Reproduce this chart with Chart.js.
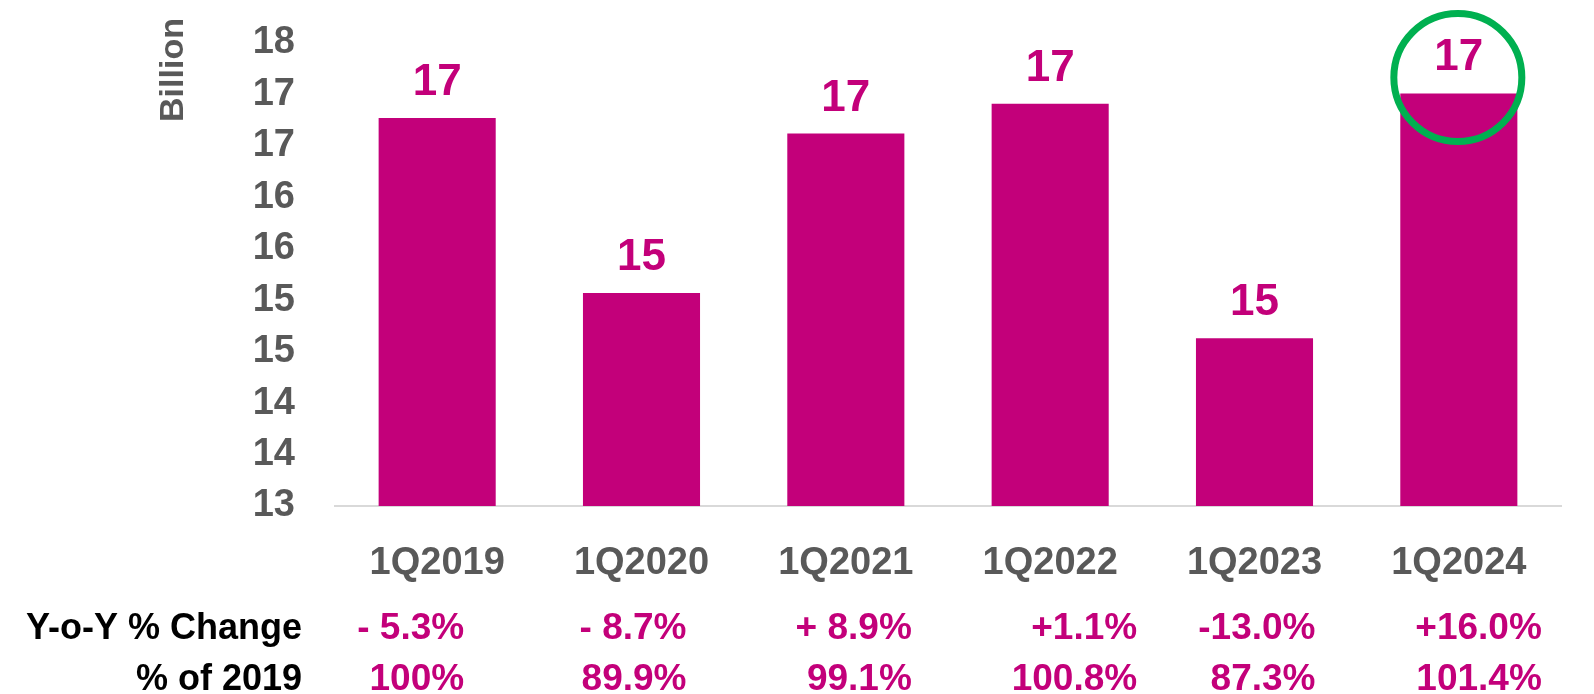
<!DOCTYPE html>
<html><head><meta charset="utf-8">
<script src="https://cdn.jsdelivr.net/npm/chart.js@4.4.1/dist/chart.umd.min.js"></script>
<style>html,body{margin:0;padding:0;background:#fff;}#wrap{width:1594px;height:694px;}</style>
</head><body><div id="wrap"><canvas id="c" width="1594" height="694"></canvas></div>
<script>
// ---- data ----
const categories = ['1Q2019', '1Q2020', '1Q2021', '1Q2022', '1Q2023', '1Q2024'];
const passengers = [16.77, 15.07, 16.62, 16.91, 14.63, 17.01];
const yoyChange = ['- 5.3%', '- 8.7%', '+ 8.9%', '+1.1%', '-13.0%', '+16.0%'];
const pctOf2019 = ['100%', '89.9%', '99.1%', '100.8%', '87.3%', '101.4%'];
const rowLabels = ['Y-o-Y % Change', '% of 2019'];
const yMin = 13, yMax = 17.5, yStep = 0.5;
const axisTitle = 'Billion';
const highlightIndex = 5;

// ---- styles / layout ----
const MAGENTA = '#C3007A';
const GRAY = '#595959';
const GREEN = '#00B050';
const FONT = '"Liberation Sans", Arial, sans-serif';
const colRightOffsets = [27, 45, 66, 87, 61, 83]; // table column right edges relative to category centre

const overlay = {
  id: 'overlay',
  afterDatasetsDraw(chart) {
    const ctx = chart.ctx;
    const meta = chart.getDatasetMeta(0);
    const xs = chart.scales.x;
    const area = chart.chartArea;
    ctx.save();
    // value labels
    ctx.fillStyle = MAGENTA;
    ctx.font = 'bold 44px ' + FONT;
    ctx.textAlign = 'center';
    ctx.textBaseline = 'alphabetic';
    meta.data.forEach((bar, i) => {
      ctx.fillText(String(Math.round(passengers[i])), bar.x, bar.y - 23);
    });
    // highlight circle
    const hb = meta.data[highlightIndex];
    ctx.beginPath();
    ctx.arc(hb.x - 1, hb.y - 16, 64, 0, Math.PI * 2);
    ctx.strokeStyle = GREEN;
    ctx.lineWidth = 7;
    ctx.stroke();
    // axis title
    ctx.save();
    ctx.translate(area.left - 161, area.top + 27);
    ctx.rotate(-Math.PI / 2);
    ctx.fillStyle = GRAY;
    ctx.font = 'bold 34px ' + FONT;
    ctx.textAlign = 'center';
    ctx.textBaseline = 'middle';
    ctx.fillText(axisTitle, 0, 0);
    ctx.restore();
    // table rows
    const rows = [yoyChange, pctOf2019];
    const rowY = [area.bottom + 123, area.bottom + 174];
    ctx.textBaseline = 'middle';
    rows.forEach((row, r) => {
      ctx.textAlign = 'right';
      ctx.fillStyle = '#000000';
      ctx.font = 'bold 36px ' + FONT;
      ctx.fillText(rowLabels[r], area.left - 33, rowY[r]);
      ctx.fillStyle = MAGENTA;
      ctx.font = 'bold 37px ' + FONT;
      row.forEach((txt, i) => {
        ctx.fillText(txt, xs.getPixelForValue(i) + colRightOffsets[i], rowY[r]);
      });
    });
    ctx.restore();
  }
};

new Chart(document.getElementById('c'), {
  type: 'bar',
  data: {
    labels: categories,
    datasets: [{
      data: passengers,
      backgroundColor: MAGENTA,
      borderWidth: 0,
      barPercentage: 0.573,
      categoryPercentage: 1.0
    }]
  },
  options: {
    responsive: false,
    devicePixelRatio: 1,
    animation: false,
    layout: { padding: { left: 150, right: 33, top: 43, bottom: 108 } },
    plugins: { legend: { display: false }, tooltip: { enabled: false }, title: { display: false } },
    scales: {
      x: {
        grid: { display: false, drawTicks: false },
        border: { display: true, color: '#D9D9D9', width: 2 },
        ticks: { color: GRAY, font: { family: FONT, size: 38, weight: 'bold' }, padding: 35, maxRotation: 0 },
        afterFit(scale) { scale.height = 80; }
      },
      y: {
        min: yMin, max: yMax,
        grid: { display: false, drawTicks: false },
        border: { display: false },
        ticks: {
          stepSize: yStep,
          color: GRAY,
          font: { family: FONT, size: 38, weight: 'bold' },
          padding: 40,
          callback: (v) => String(Math.round(v))
        },
        afterFit(scale) { scale.width = 185; scale.paddingTop = 0; scale.paddingBottom = 0; }
      }
    }
  },
  plugins: [overlay]
});
</script>
</body></html>
